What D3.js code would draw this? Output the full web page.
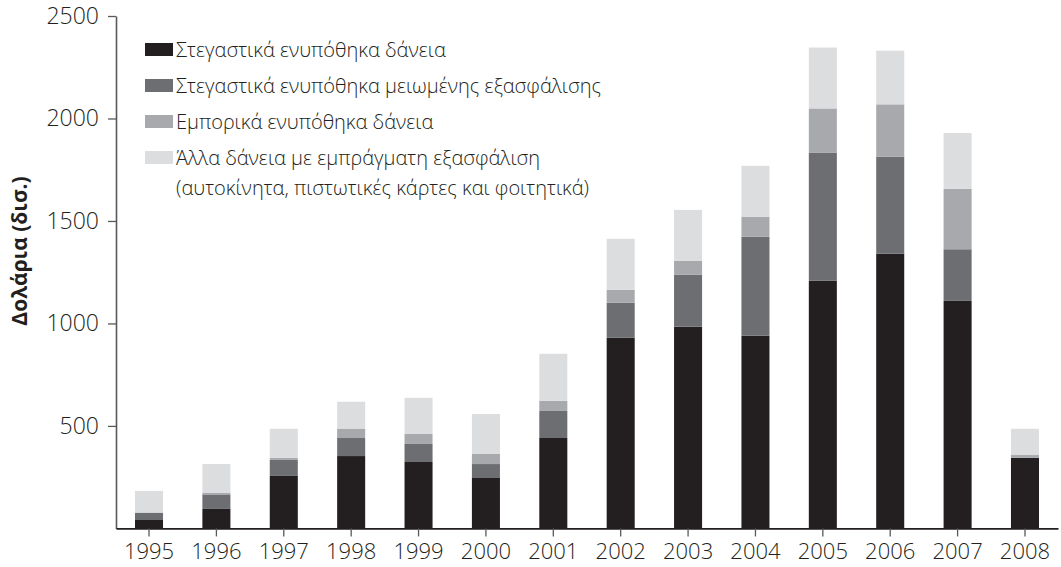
<!DOCTYPE html>
<html>
<head>
<meta charset="utf-8">
<script src="https://cdn.jsdelivr.net/npm/d3@7"></script>
<style>
  body { margin: 0; background: #fff; }
  svg text { font-family: "Open Sans", "DejaVu Sans", sans-serif; fill: #231f20; }
</style>
</head>
<body>
<div id="chart-area"></div>
<script>
// data (billions of dollars)
var years = ["1995","1996","1997","1998","1999","2000","2001","2002","2003","2004","2005","2006","2007","2008"];
var primeMortgages   = [41, 95, 256, 353, 324, 246, 441, 930, 984, 940, 1208, 1340, 1110, 344];
var subprimeMortgages = [36, 68, 78, 88, 88, 68, 132, 171, 253, 483, 626, 474, 252, 0];
var commercialMortgages = [0, 10, 10, 44, 49, 49, 49, 63, 68, 98, 215, 255, 295, 14];
var otherLoans       = [106, 141, 142, 133, 176, 195, 230, 249, 249, 248, 297, 262, 272, 128];
var yTicks = [500, 1000, 1500, 2000, 2500];

var seriesKeys = ["prime", "subprime", "commercial", "other"];
var seriesLabels = [
	["Στεγαστικά ενυπόθηκα δάνεια"],
	["Στεγαστικά ενυπόθηκα μειωμένης εξασφάλισης"],
	["Εμπορικά ενυπόθηκα δάνεια"],
	["Άλλα δάνεια με εμπράγματη εξασφάλιση", "(αυτοκίνητα, πιστωτικές κάρτες και φοιτητικά)"]
];
var colors = ["#231f20", "#6d6e71", "#a7a9ac", "#dcdddf"];

var margin = {top: 16, right: 3, bottom: 38.6, left: 116};
var width = 1061 - margin.left - margin.right;
var height = 567 - margin.top - margin.bottom;

var table = years.map((y, i) => {
	return {year: y, prime: primeMortgages[i], subprime: subprimeMortgages[i],
		commercial: commercialMortgages[i], other: otherLoans[i]};
});

var svg = d3.select("#chart-area").append("svg")
	.attr("width", 1061)
	.attr("height", 567);

var group = svg.append("g")
	.attr("transform", "translate(" + margin.left + "," + margin.top + ")");

var x = d3.scaleBand()
	.domain(years)
	.range([0, width])
	.paddingInner(0.584)
	.paddingOuter(0.282);

var y = d3.scaleLinear()
	.domain([0, 2500])
	.range([height, 0]);

var stacked = d3.stack().keys(seriesKeys)(table);

group.selectAll("g.layer")
	.data(stacked)
	.enter()
	.append("g")
	.attr("class", "layer")
	.attr("fill", (d, i) => colors[i])
	.selectAll("rect")
	.data((d) => d)
	.enter()
	.append("rect")
	.attr("x", (d) => x(d.data.year))
	.attr("y", (d) => y(d[1]))
	.attr("height", (d) => y(d[0]) - y(d[1]))
	.attr("width", x.bandwidth());

// axes
var leftAxis = d3.axisLeft(y)
	.tickValues(yTicks)
	.tickFormat(d3.format("d"))
	.tickSize(8)
	.tickSizeOuter(0)
	.tickPadding(9);
var yAxis = group.append("g")
	.attr("class", "left axis")
	.call(leftAxis);
yAxis.select(".domain").attr("stroke", "#58595b").attr("stroke-width", 1.6);
yAxis.selectAll(".tick line").attr("stroke", "#58595b").attr("stroke-width", 1.3);
yAxis.selectAll("text")
	.attr("font-size", "23px")
	.attr("font-weight", 300)
	.attr("fill", "#231f20");

var bottomAxis = d3.axisBottom(x)
	.tickSize(8)
	.tickSizeOuter(0)
	.tickPadding(7);
var xAxis = group.append("g")
	.attr("class", "bottom axis")
	.attr("transform", "translate(0," + height + ")")
	.call(bottomAxis);
xAxis.select(".domain").attr("stroke", "#231f20").attr("stroke-width", 1.6);
xAxis.selectAll(".tick line").attr("stroke", "#58595b").attr("stroke-width", 1.3);
xAxis.selectAll("text")
	.attr("font-size", "22px")
	.attr("font-weight", 300)
	.attr("fill", "#231f20");

// y axis title
svg.append("text")
	.attr("class", "y axis-label")
	.attr("x", -251)
	.attr("y", 27)
	.attr("font-size", "21px")
	.attr("font-weight", "bold")
	.attr("text-anchor", "middle")
	.attr("transform", "rotate(-90)")
	.text("Δολάρια (δισ.)");

// legend
var legend = svg.append("g")
	.attr("class", "legend")
	.attr("transform", "translate(145,43)");
var rowGap = 36;
seriesLabels.forEach((lines, i) => {
	var row = legend.append("g")
		.attr("transform", "translate(0," + (i * rowGap) + ")");
	row.append("rect")
		.attr("x", 0)
		.attr("y", 0)
		.attr("width", 28)
		.attr("height", 13)
		.attr("fill", colors[i]);
	lines.forEach((t, j) => {
		row.append("text")
			.attr("x", 31)
			.attr("y", 14 + j * 30)
			.attr("font-size", "20px")
			.attr("font-weight", 300)
			.text(t);
	});
});
</script>
</body>
</html>
